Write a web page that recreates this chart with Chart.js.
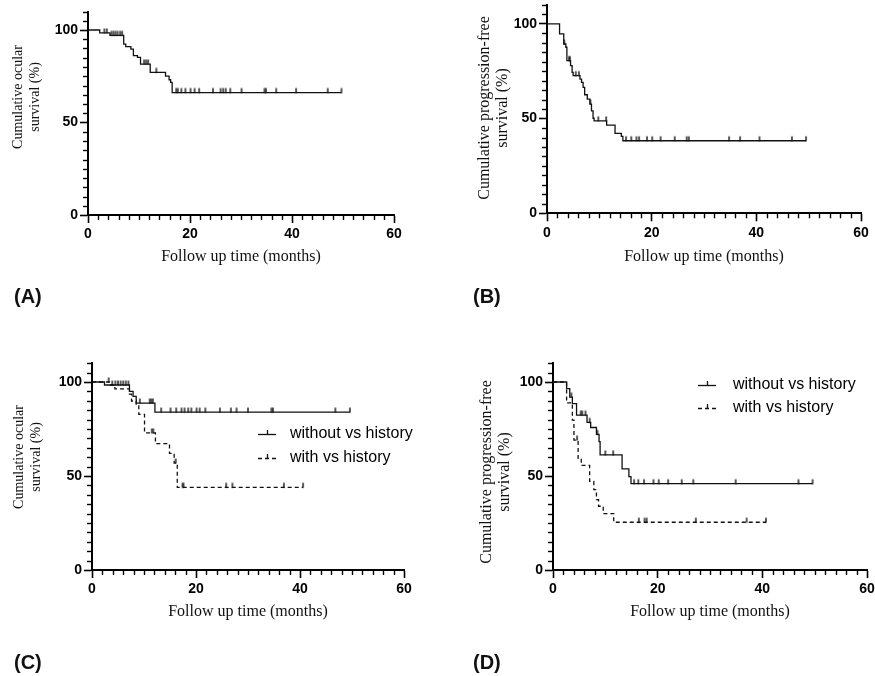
<!DOCTYPE html>
<html>
<head>
<meta charset="utf-8">
<script src="https://cdn.jsdelivr.net/npm/chart.js@4.4.1/dist/chart.umd.min.js"></script>
<style>
  body { margin: 0; background: #fff; }
  #page { position: relative; width: 875px; height: 676px; overflow: hidden; }
  #page canvas { position: absolute; }
</style>
</head>
<body>
<div id="page">
  <canvas id="chartA" width="437" height="338" style="left:0;top:0"></canvas>
  <canvas id="chartB" width="438" height="338" style="left:437px;top:0"></canvas>
  <canvas id="chartC" width="437" height="338" style="left:0;top:338px"></canvas>
  <canvas id="chartD" width="438" height="338" style="left:437px;top:338px"></canvas>
</div>
<script>
// ===============================
// DATA
// ===============================
const xTickValues = [0, 20, 40, 60];
const yTickValues = [0, 50, 100];
const legendLabels = ["without vs history", "with vs history"];

// (A) ocular survival, all patients
const aTimes = [0, 2.3, 4.3, 7.0, 7.4, 8.4, 8.9, 9.7, 10.3, 12.2, 15.2, 15.9, 16.2, 16.5, 49.7];
const aSurv = [100, 98.4, 97.1, 92.4, 91.0, 89.7, 86.1, 85.2, 81.6, 77.1, 75.1, 73.1, 71.7, 66.2, 66.2];
const aCensored = [3.2, 3.7, 4.6, 5.0, 5.4, 5.8, 6.3, 6.7, 11.0, 11.4, 11.8, 13.4, 17.3, 17.6, 18.3,
  19.1, 20.1, 20.9, 21.8, 24.5, 26.0, 26.5, 27.0, 27.9, 30.1, 34.6, 34.9, 36.9, 40.8, 47.0, 49.7];

// (B) progression-free survival, all patients
const bTimes = [0, 2.4, 3.2, 3.6, 3.8, 4.5, 4.8, 5.0, 6.3, 6.6, 6.9, 7.2, 7.7, 8.2, 8.5, 8.8, 9.0, 11.4, 13.0, 14.2, 14.5, 49.5];
const bSurv = [100, 94.7, 89.4, 87.7, 80.6, 78.0, 74.4, 72.7, 70.9, 69.1, 66.5, 62.6, 60.3, 57.7, 54.1, 50.2, 48.8, 46.6, 42.2, 40.6, 38.3, 38.3];
const bCensored = [3.3, 4.2, 4.4, 5.5, 6.1, 8.3, 9.8, 11.3, 15.1, 16.1, 17.1, 17.6, 19.1, 20.1, 21.7,
  24.4, 26.7, 27.1, 34.8, 36.9, 40.6, 46.8, 49.5];

// (C) ocular survival by vs history
const cWithoutTimes = [0, 2.4, 7.2, 7.9, 8.5, 12.1, 49.6];
const cWithoutSurv = [100, 98.4, 95.0, 92.4, 88.8, 84.0, 84.0];
const cWithoutCensored = [3.9, 4.5, 5.0, 5.5, 6.0, 6.5, 7.0, 9.2, 11.1, 11.4, 11.7, 13.3, 15.1, 16.2, 17.2,
  17.8, 18.5, 19.1, 20.1, 20.7, 21.8, 24.6, 26.7, 27.8, 30.0, 34.5, 34.8, 46.8, 49.6];
const cWithTimes = [0, 3.5, 4.4, 7.2, 7.6, 8.5, 9.0, 10.1, 12.2, 14.9, 15.8, 16.4, 40.6];
const cWithSurv = [100, 98.4, 96.3, 93.6, 89.9, 88.2, 82.8, 72.9, 67.2, 62.0, 56.9, 44.0, 44.0];
const cWithCensored = [3.2, 11.5, 11.8, 16.1, 17.4, 17.6, 25.8, 27.0, 36.9, 40.6];

// (D) progression-free survival by vs history
const dWithoutTimes = [0, 2.6, 3.2, 3.7, 4.5, 6.5, 7.2, 8.3, 8.8, 9.0, 13.2, 14.5, 14.9, 49.6];
const dWithoutSurv = [100, 96.5, 92.0, 88.5, 82.4, 78.5, 75.8, 72.1, 68.3, 61.2, 53.8, 49.7, 45.9, 45.9];
const dWithoutCensored = [3.5, 5.3, 5.6, 6.2, 7.0, 8.5, 10.0, 11.5, 15.5, 16.3, 17.4, 19.2, 20.2, 22.0,
  24.6, 26.8, 34.9, 46.9, 49.6];
const dWithTimes = [0, 2.6, 3.7, 4.0, 4.8, 5.4, 7.0, 7.8, 8.3, 8.7, 9.6, 11.6, 40.7];
const dWithSurv = [100, 88.9, 79.7, 69.1, 59.4, 55.6, 47.1, 42.7, 37.4, 33.9, 30.0, 25.4, 25.4];
const dWithCensored = [4.6, 16.4, 17.5, 17.9, 27.3, 37.0, 40.7];

// ===============================
// HELPERS
// ===============================
const INK = "#111";
const SANS = '"Liberation Sans", Arial, sans-serif';
const SERIF = '"Liberation Serif", "Times New Roman", serif';

// small upward censor tick used as point style
function censorTick() {
  const c = document.createElement("canvas");
  c.width = 4;
  c.height = 12;
  const g = c.getContext("2d");
  g.strokeStyle = INK;
  g.lineWidth = 1.4;
  g.beginPath();
  g.moveTo(2, 1.5);
  g.lineTo(2, 6.5);
  g.stroke();
  return c;
}
const tickImg = censorTick();

// Kaplan-Meier value at time t (last step at or before t)
function survAt(times, surv, t) {
  let s = surv[0];
  for (let i = 0; i < times.length; i++) if (times[i] <= t) s = surv[i];
  return s;
}

function kmDatasets(label, times, surv, censored, dash) {
  return [
    {
      label: label,
      data: times.map((t, i) => ({ x: t, y: surv[i] })),
      stepped: "before",
      borderColor: INK,
      borderWidth: 1.3,
      borderDash: dash,
      pointRadius: 0,
      fill: false,
    },
    {
      label: label + " censored",
      data: censored.map((t) => ({ x: t, y: survAt(times, surv, t) })),
      showLine: false,
      pointStyle: tickImg,
      pointRadius: 4,
      borderColor: INK,
    },
  ];
}

// ===============================
// EXTRA DRAWING (minor ticks, titles, legend, panel letter)
// ===============================
function extrasPlugin(p) {
  return {
    id: "extras",
    afterDraw(chart) {
      const { ctx, chartArea: ca, scales } = chart;
      const x = scales.x, y = scales.y;
      ctx.save();
      ctx.strokeStyle = "#000";
      ctx.lineWidth = 1.4;

      // minor ticks
      for (let v = 0; v <= 60; v += 2) {
        if (xTickValues.includes(v)) continue;
        const px = Math.round(x.getPixelForValue(v)) + 0.5;
        ctx.beginPath();
        ctx.moveTo(px, ca.bottom);
        ctx.lineTo(px, ca.bottom + 5);
        ctx.stroke();
      }
      for (let v = 0; v <= 110; v += 5) {
        if (yTickValues.includes(v)) continue;
        const py = Math.round(y.getPixelForValue(v)) + 0.5;
        ctx.beginPath();
        ctx.moveTo(ca.left, py);
        ctx.lineTo(ca.left - 5, py);
        ctx.stroke();
      }

      // axis titles
      ctx.fillStyle = INK;
      ctx.textAlign = "center";
      ctx.textBaseline = "middle";
      ctx.font = `${p.yTitleSize}px ${SERIF}`;
      p.yTitle.forEach((line, i) => {
        ctx.save();
        ctx.translate(p.yTitleX[i], p.yTitleY);
        ctx.rotate(-Math.PI / 2);
        ctx.fillText(line, 0, 0);
        ctx.restore();
      });
      ctx.font = `16px ${SERIF}`;
      ctx.fillText("Follow up time (months)", p.xTitleX, p.xTitleY);

      // legend
      if (p.legend) {
        const lines = chart.data.datasets.filter((d) => !d.label.endsWith("censored"));
        lines.forEach((d, i) => {
          const ly = p.legend.y + i * p.legend.gap;
          const lx = p.legend.x;
          ctx.strokeStyle = INK;
          ctx.lineWidth = 1.3;
          ctx.setLineDash(d.borderDash || []);
          ctx.beginPath();
          ctx.moveTo(lx, ly + 0.5);
          ctx.lineTo(lx + 18, ly + 0.5);
          ctx.stroke();
          ctx.setLineDash([]);
          ctx.beginPath();
          ctx.moveTo(lx + 9.5, ly + 0.5);
          ctx.lineTo(lx + 9.5, ly - 4);
          ctx.stroke();
          ctx.fillStyle = "#000";
          ctx.font = `16px ${SANS}`;
          ctx.textAlign = "left";
          ctx.fillText(d.label, p.legend.textX, ly);
        });
      }

      // panel letter
      ctx.fillStyle = "#111";
      ctx.font = `bold 20px ${SANS}`;
      ctx.textAlign = "left";
      ctx.textBaseline = "middle";
      ctx.fillText(p.letter, p.letterX, p.letterY);
      ctx.restore();
    },
  };
}

// ===============================
// BUILD ONE PANEL
// ===============================
function makePanel(p) {
  const tickFont = { family: SANS, size: 14, weight: "bold" };
  new Chart(document.getElementById(p.id), {
    type: "line",
    data: { datasets: p.datasets },
    options: {
      responsive: false,
      animation: false,
      events: [],
      layout: { padding: { left: 0, right: p.padRight, top: p.top, bottom: 0 } },
      plugins: { legend: { display: false }, tooltip: { enabled: false } },
      scales: {
        x: {
          type: "linear",
          min: 0,
          max: 60,
          afterBuildTicks: (s) => { s.ticks = xTickValues.map((v) => ({ value: v })); },
          afterFit: (s) => { s.height = p.xHeight; s.paddingLeft = 0; s.paddingRight = 0; },
          ticks: { font: tickFont, color: "#000", padding: 3, maxRotation: 0, autoSkip: false },
          grid: { drawOnChartArea: false, color: "#000", tickLength: 8, tickWidth: 1.6 },
          border: { color: "#000", width: 2 },
        },
        y: {
          min: 0,
          max: 110,
          afterBuildTicks: (s) => { s.ticks = yTickValues.map((v) => ({ value: v })); },
          afterFit: (s) => { s.width = p.yWidth; s.paddingTop = 0; s.paddingBottom = 0; },
          ticks: { font: tickFont, color: "#000", padding: 2 },
          grid: { drawOnChartArea: false, color: "#000", tickLength: 8, tickWidth: 1.6 },
          border: { color: "#000", width: 2 },
        },
      },
    },
    plugins: [extrasPlugin(p)],
  });
}

// ===============================
// PANELS
// ===============================
makePanel({
  id: "chartA", letter: "(A)", letterX: 14, letterY: 297,
  yWidth: 88, padRight: 43, top: 11.5, xHeight: 123,
  yTitle: ["Cumulative ocular", "survival (%)"], yTitleSize: 14, yTitleX: [18, 35], yTitleY: 97,
  xTitleX: 241, xTitleY: 257,
  datasets: kmDatasets("all", aTimes, aSurv, aCensored, []),
});

makePanel({
  id: "chartB", letter: "(B)", letterX: 36, letterY: 297,
  yWidth: 110, padRight: 14, top: 4.3, xHeight: 124.7,
  yTitle: ["Cumulative progression-free", "survival (%)"], yTitleSize: 16, yTitleX: [48, 66], yTitleY: 108,
  xTitleX: 267, xTitleY: 257,
  datasets: kmDatasets("all", bTimes, bSurv, bCensored, []),
});

makePanel({
  id: "chartC", letter: "(C)", letterX: 14, letterY: 325,
  yWidth: 92, padRight: 33, top: 25.2, xHeight: 106,
  yTitle: ["Cumulative ocular", "survival (%)"], yTitleSize: 14, yTitleX: [19, 36], yTitleY: 119,
  xTitleX: 248, xTitleY: 274,
  legend: { x: 258, y: 96, gap: 24, textX: 290 },
  datasets: [
    ...kmDatasets(legendLabels[0], cWithoutTimes, cWithoutSurv, cWithoutCensored, []),
    ...kmDatasets(legendLabels[1], cWithTimes, cWithSurv, cWithCensored, [4, 3]),
  ],
});

makePanel({
  id: "chartD", letter: "(D)", letterX: 36, letterY: 325,
  yWidth: 116, padRight: 8, top: 25.2, xHeight: 106,
  yTitle: ["Cumulative progression-free", "survival (%)"], yTitleSize: 16, yTitleX: [50, 68], yTitleY: 134,
  xTitleX: 273, xTitleY: 274,
  legend: { x: 261, y: 47, gap: 23, textX: 296 },
  datasets: [
    ...kmDatasets(legendLabels[0], dWithoutTimes, dWithoutSurv, dWithoutCensored, []),
    ...kmDatasets(legendLabels[1], dWithTimes, dWithSurv, dWithCensored, [4, 3]),
  ],
});
</script>
</body>
</html>
